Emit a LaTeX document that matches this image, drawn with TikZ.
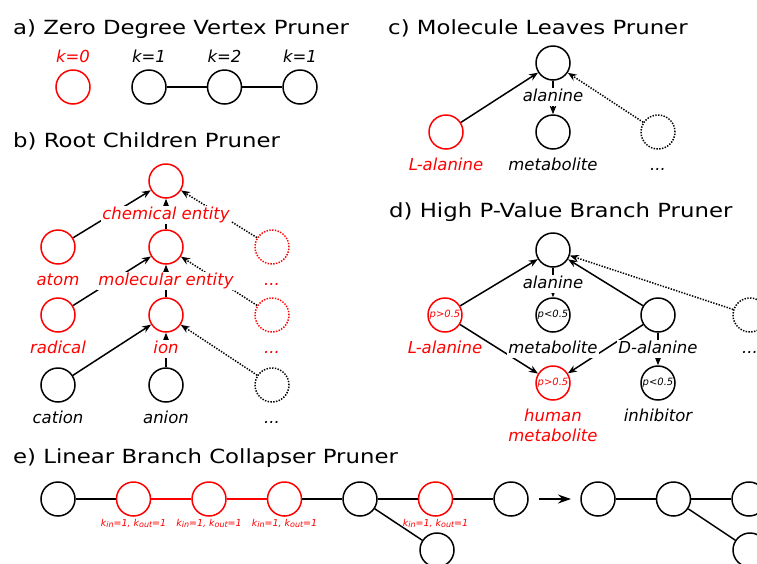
\documentclass[tikz,border=0pt]{standalone}
\usepackage{fontspec}
\setmainfont{DejaVu Sans}[ItalicFont={DejaVu Sans Oblique}]
\newfontfamily\headfont[FakeStretch=1.17]{DejaVu Sans}
\usetikzlibrary{arrows.meta}
\usetikzlibrary{positioning}

\tikzset{
  vtx/.style={circle,draw,line width=1.5pt,minimum size=34pt,inner sep=0pt},
  hit/.style={vtx,draw=red,text=red},
  more/.style={vtx,dash pattern=on 1.4pt off 1.4pt},
  lbl/.style={font=\fontsize{16.5}{20}\selectfont\itshape,fill=white,inner sep=1pt,
               text height=12.5pt,text depth=3.8pt},
  heading/.style={font=\headfont\fontsize{19.5}{22}\selectfont,anchor=base west,inner sep=0pt},
  pval/.style={font=\fontsize{10}{11}\selectfont\itshape},
  kio/.style={font=\fontsize{9.5}{12}\selectfont\itshape,text=red,inner sep=1pt},
  elided/.style={dash pattern=on 1.4pt off 1.4pt},
}
\newcommand{\kinout}{k\raisebox{-1.5pt}{\fontsize{8}{8}\selectfont in}=1, k\raisebox{-1.5pt}{\fontsize{8}{8}\selectfont out}=1}

\begin{document}
\begin{tikzpicture}[x=1pt,y=-1pt,node distance=40pt]
\useasboundingbox (0,0) rectangle (757,563);

% a) zero degree
\node[heading] (ta) at (13,34) {a) Zero Degree Vertex Pruner};
\begin{scope}[every node/.style={vtx}]
    \node[hit]            (k0) at (73,87)  {};
    \node                 (k1) at (149,87) {};
    \node[right=of {k1}]  (k2)             {};
    \node[right=of {k2}]  (k3)             {};
\end{scope}
\path[line width=1.5pt] (k1) edge (k2) (k2) edge (k3);
\begin{scope}[every node/.style={lbl}]
    \node[above=1.5pt of {k0},text=red] (k0-l) {k=0};
    \node[above=1.5pt of {k1}]          (k1-l) {k=1};
    \node[above=1.5pt of {k2}]          (k2-l) {k=2};
    \node[above=1.5pt of {k3}]          (k3-l) {k=1};
\end{scope}

% b) root children
\node[heading] (tb) at (13,147) {b) Root Children Pruner};
\begin{scope}[every node/.style={vtx}]
    \node[hit]  (chem)    at (166,181) {};
    \node[hit]  (atom)    at (58,247)  {};
    \node[hit]  (molent)  at (166,247) {};
    \node[more,draw=red] (more1) at (272,247) {};
    \node[hit]  (radical) at (58,315)  {};
    \node[hit]  (ion)     at (166,315) {};
    \node[more,draw=red] (more2) at (272,315) {};
    \node       (cation)  at (58,385)  {};
    \node       (anion)   at (166,385) {};
    \node[more] (more3)   at (272,385) {};
\end{scope}

% c) molecule leaves
\node[heading] (tc) at (388,34) {c) Molecule Leaves Pruner};
\begin{scope}[every node/.style={vtx}]
    \node       (ala)    at (553,63)  {};
    \node[hit]  (lala)   at (446,132) {};
    \node       (meta)   at (553,132) {};
    \node[more] (more4)  at (658,132) {};
\end{scope}

% d) high p-value branch
\node[heading] (td) at (389,217) {d) High P-Value Branch Pruner};
\begin{scope}[every node/.style={vtx,pval}]
    \node       (alad)   at (553,250) {};
    \node[hit]  (lalad)  at (445,315) {p>0.5};
    \node       (metad)  at (553,315) {p<0.5};
    \node       (dalad)  at (658,315) {};
    \node[more] (more5)  at (750,315) {};
    \node[hit]  (human)  at (553,383) {p>0.5};
    \node       (inhib)  at (658,383) {p<0.5};
\end{scope}

% e) linear branch collapser
\node[heading] (te) at (13,463) {e) Linear Branch Collapser Pruner};
\begin{scope}[every node/.style={vtx}]
    \node                      (e1) at (58,499) {};
    \node[hit,right=of {e1}]   (e2) {};
    \node[hit,right=of {e2}]   (e3) {};
    \node[hit,right=of {e3}]   (e4) {};
    \node[right=of {e4}]       (e5) {};
    \node[hit,right=of {e5}]   (e6) {};
    \node[right=of {e6}]       (e7) {};
    \node                      (e8) at (437,550) {};
    \node                      (f1) at (598,499) {};
    \node[right=of {f1}]       (f2) {};
    \node[right=of {f2}]       (f3) {};
    \node                      (f4) at (750,550) {};
\end{scope}
\coordinate (step-from) at (539,499);
\coordinate (step-to)   at (571,499);

% connectors
\begin{scope}[>={Stealth[length=9pt,width=7pt]},
              every edge/.style={draw,line width=1.5pt}]
    \path [->] (atom)    edge         (chem);
    \path [->] (molent)  edge         (chem);
    \path [->] (more1)   edge[elided] (chem);
    \path [->] (radical) edge         (molent);
    \path [->] (ion)     edge         (molent);
    \path [->] (more2)   edge[elided] (molent);
    \path [->] (cation)  edge         (ion);
    \path [->] (anion)   edge         (ion);
    \path [->] (more3)   edge[elided] (ion);

    \path [->] (lala)    edge         (ala);
    \path [->] (ala)     edge         (meta);
    \path [->] (more4)   edge[elided] (ala);

    \path [->] (lalad)   edge         (alad);
    \path [->] (alad)    edge         (metad);
    \path [->] (dalad)   edge         (alad);
    \path [->] (more5)   edge[elided] (alad);
    \path [->] (lalad)   edge         (human);
    \path [->] (dalad)   edge         (human);
    \path [->] (dalad)   edge         (inhib);

    \path (e1) edge (e2);
    \path (e2) edge[draw=red] (e3);
    \path (e3) edge[draw=red] (e4);
    \path (e4) edge (e5);
    \path (e5) edge (e6);
    \path (e6) edge (e7);
    \path (e5) edge (e8);
    \path [->,>={Stealth[length=13pt,width=9pt]}] (step-from) edge (step-to);
    \path (f1) edge (f2);
    \path (f2) edge (f3);
    \path (f2) edge (f4);
\end{scope}

% vertex names
\begin{scope}[every node/.style={lbl}]
    \node[below=7pt of {chem},text=red]    (chem-l)    {chemical entity};
    \node[below=7pt of {atom},text=red]    (atom-l)    {atom};
    \node[below=7pt of {molent},text=red]  (molent-l)  {molecular entity};
    \node[below=7pt of {more1},text=red]   (more1-l)   {...};
    \node[below=7pt of {radical},text=red] (radical-l) {radical};
    \node[below=7pt of {ion},text=red]     (ion-l)     {ion};
    \node[below=7pt of {more2},text=red]   (more2-l)   {...};
    \node[below=7pt of {cation}]           (cation-l)  {cation};
    \node[below=7pt of {anion}]            (anion-l)   {anion};
    \node[below=7pt of {more3}]            (more3-l)   {...};

    \node[below=7pt of {ala}]              (ala-l)     {alanine};
    \node[below=7pt of {lala},text=red]    (lala-l)    {L-alanine};
    \node[below=7pt of {meta}]             (meta-l)    {metabolite};
    \node[below=7pt of {more4}]            (more4-l)   {...};

    \node[below=7pt of {alad}]             (alad-l)    {alanine};
    \node[below=7pt of {lalad},text=red]   (lalad-l)   {L-alanine};
    \node[below=7pt of {metad}]            (metad-l)   {metabolite};
    \node[below=7pt of {dalad}]            (dalad-l)   {D-alanine};
    \node[below=7pt of {more5}]            (more5-l)   {...};
    \node[below=7pt of {human},text=red,align=center,text height=32.5pt] (human-l) {human\\metabolite};
    \node[below=7pt of {inhib}]            (inhib-l)   {inhibitor};
\end{scope}
\begin{scope}[every node/.style={kio}]
    \node[below=1pt of {e2}] (e2-l) {\kinout};
    \node[below=1pt of {e3}] (e3-l) {\kinout};
    \node[below=1pt of {e4}] (e4-l) {\kinout};
    \node[below=1pt of {e6}] (e6-l) {\kinout};
\end{scope}
\end{tikzpicture}
\end{document}
